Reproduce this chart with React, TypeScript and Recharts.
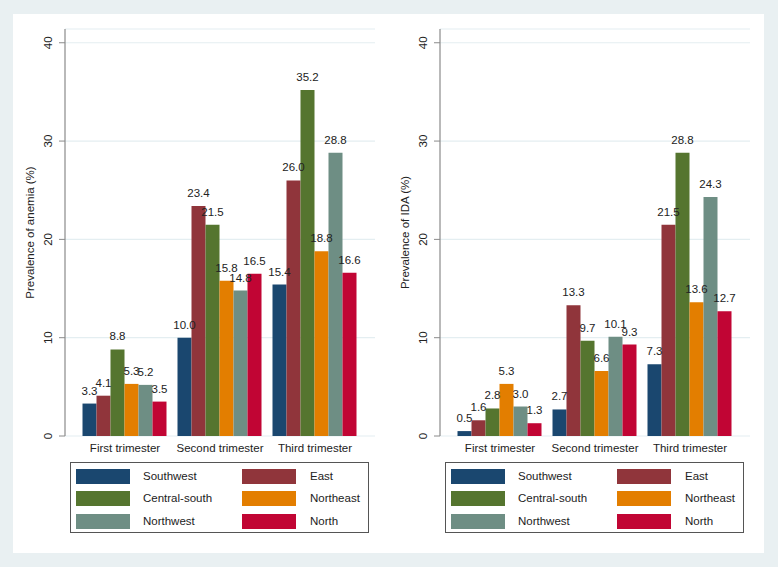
import { BarChart, Bar, XAxis, YAxis, CartesianGrid, LabelList } from 'recharts'

const trimesters = ['First trimester', 'Second trimester', 'Third trimester']
const regions = ['Southwest', 'East', 'Central-south', 'Northeast', 'Northwest', 'North']
const regionColors = ['#1a476f', '#90353b', '#55752f', '#e37e00', '#6e8e84', '#c10534']

// values per region, in trimester order
const anemiaSouthwest = [3.3, 10.0, 15.4]
const anemiaEast = [4.1, 23.4, 26.0]
const anemiaCentralSouth = [8.8, 21.5, 35.2]
const anemiaNortheast = [5.3, 15.8, 18.8]
const anemiaNorthwest = [5.2, 14.8, 28.8]
const anemiaNorth = [3.5, 16.5, 16.6]

const idaSouthwest = [0.5, 2.7, 7.3]
const idaEast = [1.6, 13.3, 21.5]
const idaCentralSouth = [2.8, 9.7, 28.8]
const idaNortheast = [5.3, 6.6, 13.6]
const idaNorthwest = [3.0, 10.1, 24.3]
const idaNorth = [1.3, 9.3, 12.7]

const yTicks = [0, 10, 20, 30, 40]

const FONT = '"Liberation Sans", Arial, sans-serif'

function buildRows(series: number[][]) {
  return trimesters.map((t, i) => {
    const row: Record<string, string | number> = { trimester: t }
    regions.forEach((r, j) => {
      row[r] = series[j][i]
    })
    return row
  })
}

const anemiaData = buildRows([
  anemiaSouthwest, anemiaEast, anemiaCentralSouth, anemiaNortheast, anemiaNorthwest, anemiaNorth,
])
const idaData = buildRows([
  idaSouthwest, idaEast, idaCentralSouth, idaNortheast, idaNorthwest, idaNorth,
])

function RotatedTick(props: any) {
  const { x, y, payload } = props
  const cx = x - 8
  return (
    <text
      x={cx}
      y={y}
      transform={`rotate(-90, ${cx}, ${y})`}
      textAnchor="middle"
      dominantBaseline="central"
      fontSize={11.5}
      fontFamily={FONT}
      fill="#222"
    >
      {payload.value}
    </text>
  )
}

function Panel({ data, yLabel, left }: { data: any[]; yLabel: string; left: number }) {
  return (
    <div style={{ position: 'absolute', left, top: 14 }}>
      <BarChart
        width={376}
        height={539}
        data={data}
        margin={{ top: 15, right: 14, left: 0, bottom: 87 }}
        barCategoryGap={5}
        barGap={0}
      >
        <CartesianGrid vertical={false} stroke="#e4eef1" strokeWidth={1.2} />
        <XAxis
          dataKey="trimester"
          axisLine={false}
          tickLine={false}
          tickSize={8}
          tickMargin={0}
          height={30}
          padding={{ left: 12.5, right: 12.5 }}
          tick={{ fill: '#222', fontSize: 11.5, fontFamily: FONT }}
          interval={0}
        />
        <YAxis
          width={52}
          domain={[0, 41.4]}
          ticks={yTicks}
          allowDataOverflow
          axisLine={{ stroke: '#8a8a8a', strokeWidth: 1.2 }}
          tickLine={{ stroke: '#8a8a8a' }}
          tickSize={6}
          tickMargin={3}
          tick={<RotatedTick />}
          label={{
            content: ({ viewBox }: any) => {
              const cx = viewBox.x + 17
              const cy = viewBox.y + viewBox.height / 2
              return (
                <text
                  x={cx}
                  y={cy}
                  transform={`rotate(-90, ${cx}, ${cy})`}
                  textAnchor="middle"
                  dominantBaseline="central"
                  fontSize={11.5}
                  fontFamily={FONT}
                  fill="#222"
                >
                  {yLabel}
                </text>
              )
            },
          }}
        />
        {regions.map((r, i) => (
          <Bar key={r} dataKey={r} fill={regionColors[i]} isAnimationActive={false}>
            <LabelList
              dataKey={r}
              position="top"
              offset={9}
              formatter={(v: any) => Number(v).toFixed(1)}
              style={{ fill: '#222', fontSize: 11.5, fontFamily: FONT }}
            />
          </Bar>
        ))}
      </BarChart>
      <LegendBox left={57} />
    </div>
  )
}

function LegendBox({ left }: { left: number }) {
  return (
    <div
      style={{
        position: 'absolute',
        left,
        top: 448,
        width: 297,
        height: 69,
        border: '1px solid #555',
        background: '#fff',
        fontFamily: FONT,
        fontSize: 11.5,
        color: '#222',
      }}
    >
      {regions.map((r, i) => {
        const col = i % 2
        const row = Math.floor(i / 2)
        const top = 13 + row * 22.5 - 7.5
        return (
          <div key={r}>
            <div
              style={{
                position: 'absolute',
                left: col === 0 ? 5 : 171,
                top,
                width: 54,
                height: 15,
                background: regionColors[i],
              }}
            />
            <div
              style={{
                position: 'absolute',
                left: col === 0 ? 72 : 239,
                top: top,
                lineHeight: '15px',
              }}
            >
              {r}
            </div>
          </div>
        )
      })}
    </div>
  )
}

export default function App() {
  return (
    <div
      style={{
        position: 'absolute',
        left: 0,
        top: 0,
        width: 778,
        height: 567,
        background: '#e9f0f2',
        overflow: 'hidden',
      }}
    >
      <div style={{ position: 'absolute', left: 13, top: 14, width: 751, height: 539, background: '#fff' }} />
      <Panel data={anemiaData} yLabel="Prevalence of anemia (%)" left={13} />
      <Panel data={idaData} yLabel="Prevalence of IDA (%)" left={388} />
    </div>
  )
}
